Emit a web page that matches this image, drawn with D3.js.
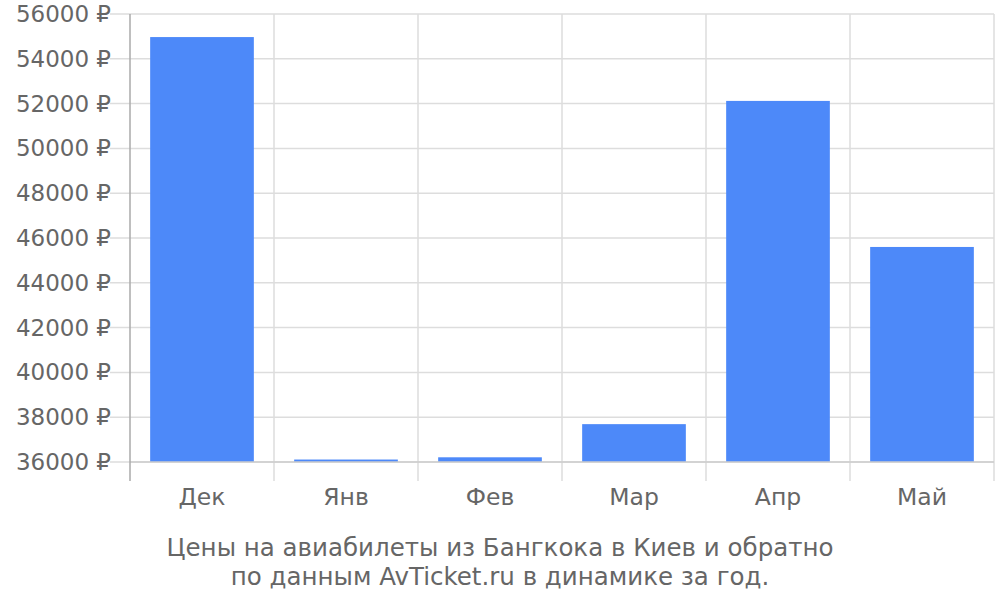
<!DOCTYPE html>
<html><head><meta charset="utf-8">
<script src="https://cdn.jsdelivr.net/npm/d3@7"></script>
<style>body{margin:0;background:#fff}svg{display:block}</style>
</head><body>
<svg id="c" width="1000" height="600"></svg>
<script>
const categories = ["Дек","Янв","Фев","Мар","Апр","Май"];
const values = [54970, 36110, 36210, 37690, 52120, 45600];
const yTicks = [36000,38000,40000,42000,44000,46000,48000,50000,52000,54000,56000];
const titleLines = ["Цены на авиабилеты из Бангкока в Киев и обратно","по данным AvTicket.ru в динамике за год."];

const svg = d3.select("#c");
const font = "DejaVu Sans, sans-serif";
const L = 130, R = 994, T = 14, B = 462;
const x = d3.scaleBand().domain(categories).range([L, R]).paddingInner(0.28).paddingOuter(0.14);
const xb = d3.scaleBand().domain(categories).range([L, R]);
const y = d3.scaleLinear().domain([36000, 56000]).range([B, T]);

// horizontal grid
svg.append("g").selectAll("line").data(yTicks).join("line")
  .attr("x1", 110).attr("x2", R).attr("y1", d => y(d)).attr("y2", d => y(d))
  .attr("stroke", "#dddddd").attr("stroke-width", 1.5);
// vertical grid
svg.append("g").selectAll("line").data(categories).join("line")
  .attr("x1", d => xb(d) + xb.bandwidth()).attr("x2", d => xb(d) + xb.bandwidth())
  .attr("y1", T).attr("y2", 481)
  .attr("stroke", "#dddddd").attr("stroke-width", 1.5);

// bars
svg.append("g").selectAll("rect").data(values).join("rect")
  .attr("x", (d, i) => x(categories[i]))
  .attr("width", x.bandwidth())
  .attr("y", d => y(d))
  .attr("height", d => B - y(d))
  .attr("fill", "#4d89f9");

// bottom baseline
svg.append("line").attr("x1", L).attr("x2", R).attr("y1", B).attr("y2", B)
  .attr("stroke", "#cccccc").attr("stroke-width", 1.5);
// left axis
svg.append("line").attr("x1", L).attr("x2", L).attr("y1", T).attr("y2", 481)
  .attr("stroke", "#aaaaaa").attr("stroke-width", 1.5);

// y labels
svg.append("g").selectAll("text").data(yTicks).join("text")
  .attr("x", 111).attr("y", d => y(d)).attr("dy", "0.35em")
  .attr("text-anchor", "end").attr("font-family", font).attr("font-size", 23)
  .attr("fill", "#666666").text(d => d + " ₽");

// x labels
svg.append("g").selectAll("text").data(categories).join("text")
  .attr("x", d => xb(d) + xb.bandwidth() / 2).attr("y", 505)
  .attr("text-anchor", "middle").attr("font-family", font).attr("font-size", 23.5)
  .attr("fill", "#666666").text(d => d);

// title
svg.append("g").selectAll("text").data(titleLines).join("text")
  .attr("x", 500).attr("y", (d, i) => 556 + i * 29)
  .attr("text-anchor", "middle").attr("font-family", font).attr("font-size", 24.5)
  .attr("fill", "#666666").text(d => d);
</script>
</body></html>
